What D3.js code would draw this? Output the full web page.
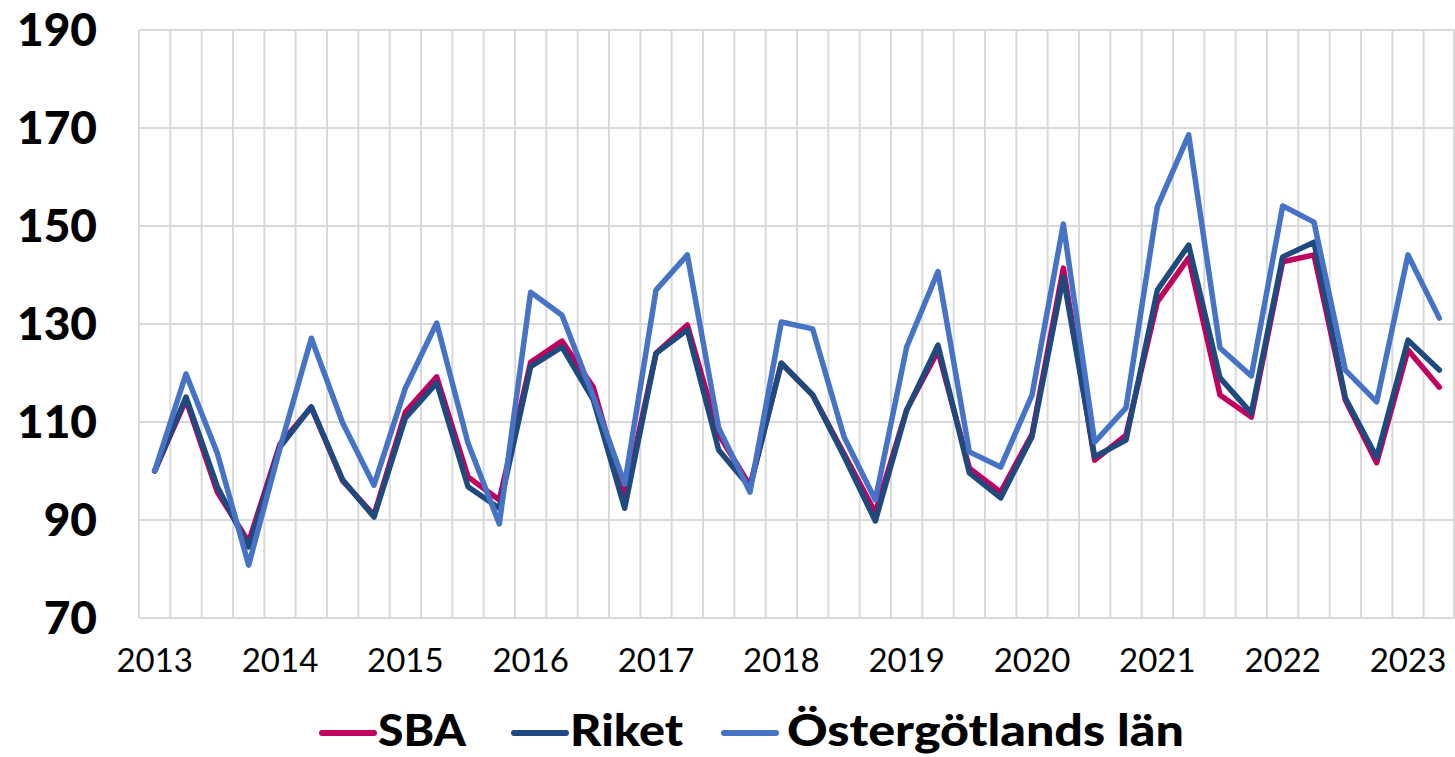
<!DOCTYPE html>
<html>
<head>
<meta charset="utf-8">
<script src="https://cdn.jsdelivr.net/npm/d3@7"></script>
<style>
  html, body { margin: 0; padding: 0; background: #fff; }
  svg { display: block; }
</style>
</head>
<body>
<div id="chart"></div>
<script>
// data (index, 2013 Q1 = 100)
const years = ['2013', '2014', '2015', '2016', '2017', '2018', '2019', '2020', '2021', '2022', '2023']
const quarters = years.flatMap(y => ['Q1', 'Q2', 'Q3', 'Q4'].map(q => y + ' ' + q)).slice(0, 42)

const sba = [100, 114.5, 95.7, 85.5, 105.5, 113, 98, 91, 112, 119.2, 98.8, 94.1,
  122.2, 126.5, 117.1, 94.5, 124, 129.8, 107.5, 97, 122, 115.5, 103.5, 91.5,
  112.5, 124.5, 100.6, 95.7, 107.5, 141.4, 102.2, 107.3, 134.5, 143.5, 115.5, 111,
  142.7, 144.1, 114.5, 101.7, 124.7, 117.1]
const riket = [100, 115.1, 96.8, 84.5, 104.9, 113.1, 98.2, 90.6, 110.8, 118, 96.8, 92.4,
  121.3, 125.3, 114.5, 92.4, 124, 128.8, 104.3, 96.7, 122, 115.5, 103, 89.8,
  112.4, 125.7, 99.6, 94.5, 107, 139.6, 102.9, 106.3, 136.9, 146.1, 119, 111.8,
  143.7, 146.7, 114.9, 102.8, 126.7, 120.6]
const ostergotland = [100, 119.8, 103.6, 80.8, 104.7, 127.1, 109.8, 97.1, 116.9, 130.2, 105.7, 89.2,
  136.5, 131.8, 115.2, 97.3, 136.9, 144.1, 108.8, 95.7, 130.4, 129, 107, 94.1,
  125.3, 140.7, 103.9, 100.8, 115.5, 150.4, 105.9, 112.9, 153.9, 168.6, 125.1, 119.4,
  154.1, 150.8, 120.6, 114.1, 144.1, 131.2]

const series = [
  { name: 'SBA', values: sba, color: '#c2005e' },
  { name: 'Riket', values: riket, color: '#1f4a7e' },
  { name: 'Östergötlands län', values: ostergotland, color: '#4673c6' }
]
const yTicks = [70, 90, 110, 130, 150, 170, 190]

// layout
const width = 1455
const height = 757
const plotLeft = 139
const plotRight = 1455
const plotTop = 30
const plotBottom = 618

const svg = d3.select('#chart').append('svg')
  .attr('width', width)
  .attr('height', height)

const x = d3.scaleBand().domain(quarters).range([plotLeft, plotRight]).padding(0)
const y = d3.scaleLinear().domain([70, 190]).range([plotBottom, plotTop])
const bw = x.bandwidth()

// grid
const grid = svg.append('g')
grid.selectAll('.hg').data(yTicks).enter().append('line')
  .attr('x1', plotLeft).attr('x2', plotRight)
  .attr('y1', d => y(d)).attr('y2', d => y(d))
  .attr('stroke', '#d9d9d9').attr('stroke-width', 2)
grid.selectAll('.vg').data(quarters.concat(['end'])).enter().append('line')
  .attr('x1', d => d === 'end' ? plotRight - 1 : x(d))
  .attr('x2', d => d === 'end' ? plotRight - 1 : x(d))
  .attr('y1', plotTop).attr('y2', plotBottom)
  .attr('stroke', '#d9d9d9').attr('stroke-width', 2)

// y labels
svg.append('g').selectAll('text').data(yTicks).enter().append('text')
  .attr('x', 97)
  .attr('y', d => y(d) + 16)
  .attr('text-anchor', 'end')
  .style('font-family', 'Lato, "DejaVu Sans", sans-serif')
  .style('font-weight', 900)
  .style('font-size', '46px')
  .text(d => d)

// x labels (one per year, on Q1)
svg.append('g').selectAll('text').data(quarters.filter(q => q.endsWith('Q1'))).enter().append('text')
  .attr('x', d => x(d) + bw / 2)
  .attr('y', 672)
  .attr('text-anchor', 'middle')
  .style('font-family', 'Lato, "DejaVu Sans", sans-serif')
  .style('font-size', '33px')
  .text(d => d.slice(0, 4))

// lines
const line = d3.line()
  .x((d, i) => x(quarters[i]) + bw / 2)
  .y(d => y(d))

svg.append('g').selectAll('path').data(series).enter().append('path')
  .attr('d', d => line(d.values))
  .attr('fill', 'none')
  .attr('stroke', d => d.color)
  .attr('stroke-width', 5.5)
  .attr('stroke-linejoin', 'round')
  .attr('stroke-linecap', 'round')

// legend
const legendPos = [
  { lx: 322, tx: 378, tw: 88 },
  { lx: 514, tx: 570, tw: 113 },
  { lx: 724, tx: 787, tw: 397 }
]
const legend = svg.append('g')
series.forEach((s, i) => {
  const p = legendPos[i]
  legend.append('line')
    .attr('x1', p.lx).attr('x2', p.lx + 52)
    .attr('y1', 733).attr('y2', 733)
    .attr('stroke', s.color)
    .attr('stroke-width', 6)
    .attr('stroke-linecap', 'round')
  legend.append('text')
    .attr('x', p.tx)
    .attr('y', 746)
    .attr('textLength', p.tw)
    .attr('lengthAdjust', 'spacingAndGlyphs')
    .style('font-family', 'Lato, "DejaVu Sans", sans-serif')
    .style('font-weight', 900)
    .style('font-size', '43px')
    .text(s.name)
})
</script>
</body>
</html>
